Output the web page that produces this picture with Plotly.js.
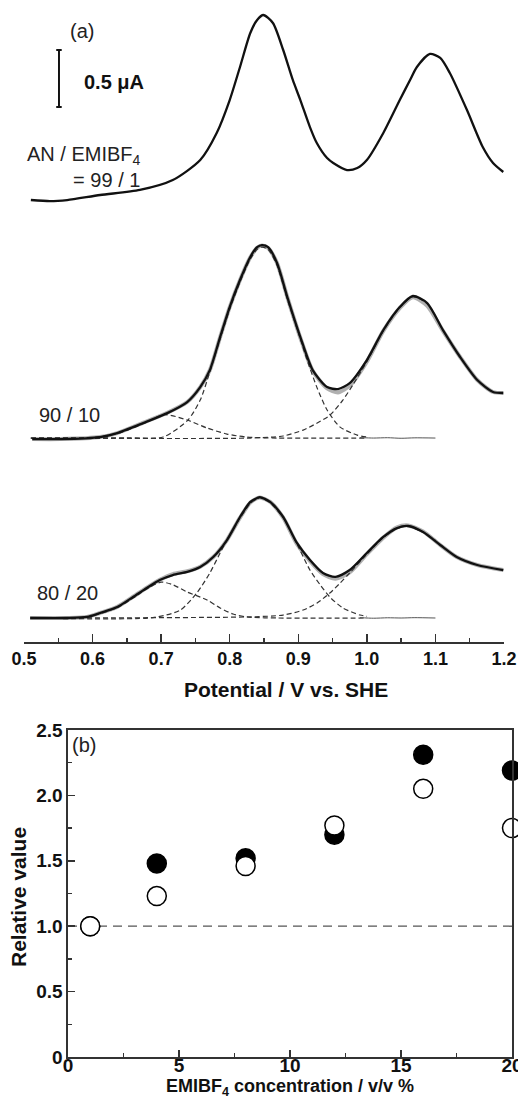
<!DOCTYPE html>
<html>
<head>
<meta charset="utf-8">
<script src="https://cdn.plot.ly/plotly-3.0.1.min.js"></script>
<style>
html,body{margin:0;padding:0;background:#fff;}
#chart{width:518px;height:1099px;}
</style>
</head>
<body>
<div id="chart"></div>
<script>
// ---------- Panel (a): voltammograms, current (µA) above each trace's own baseline ----------
// AN / EMIBF4 = 99 / 1 (fit)
const pot99 = [0.510,0.538,0.563,0.611,0.669,0.717,0.757,0.781,0.800,0.815,0.830,0.840,0.849,0.863,0.878,0.892,0.903,0.917,0.927,0.942,0.951,0.971,0.986,1.000,1.024,1.048,1.063,1.073,1.092,1.107,1.121,1.146,1.169,1.184,1.199];
const cur99 = [0,-0.01,0,0.044,0.088,0.175,0.351,0.588,0.877,1.167,1.465,1.579,1.623,1.553,1.316,1.053,0.877,0.640,0.500,0.368,0.325,0.263,0.281,0.351,0.588,0.877,1.053,1.167,1.281,1.246,1.114,0.789,0.465,0.325,0.246];

// 90 / 10
const pot90 = [0.512,0.553,0.611,0.636,0.674,0.709,0.738,0.757,0.771,0.786,0.800,0.815,0.830,0.840,0.847,0.856,0.869,0.884,0.903,0.921,0.942,0.958,0.975,1.000,1.024,1.048,1.067,1.088,1.111,1.136,1.161,1.184,1.199];
const fit90 = [-0.009,-0.009,0.009,0.044,0.132,0.219,0.316,0.447,0.596,0.886,1.149,1.386,1.588,1.675,1.693,1.675,1.535,1.237,0.886,0.596,0.447,0.430,0.482,0.684,0.947,1.149,1.246,1.184,0.947,0.711,0.509,0.404,0.395];
const exp90 = [-0.009,-0.009,0.009,0.044,0.135,0.222,0.316,0.447,0.596,0.886,1.149,1.386,1.585,1.670,1.690,1.668,1.535,1.237,0.880,0.590,0.435,0.400,0.460,0.670,0.940,1.140,1.235,1.160,0.940,0.711,0.509,0.404,0.395];
const compA90x = [0.510,0.600,0.636,0.674,0.705,0.738,0.767,0.796,0.825,0.870,1.000];
const compA90y = [0,0.005,0.040,0.125,0.205,0.158,0.088,0.035,0.009,0,0];
const compB90x = [0.510,0.650,0.703,0.739,0.757,0.771,0.786,0.800,0.815,0.830,0.840,0.847,0.856,0.869,0.884,0.903,0.912,0.927,0.942,0.961,0.986,1.000];
const compB90y = [0,0.002,0.009,0.158,0.333,0.580,0.870,1.130,1.370,1.570,1.655,1.675,1.655,1.515,1.220,0.870,0.700,0.447,0.246,0.096,0.026,0.009];
const compC90x = [0.510,0.830,0.878,0.907,0.927,0.946,0.965,0.980,1.000,1.024,1.048,1.067,1.088,1.100];
const compC90y = [0,0,0.018,0.070,0.130,0.200,0.333,0.470,0.670,0.940,1.145,1.240,1.180,1.070];
const base90x = [0.990,1.010,1.030,1.050,1.070,1.100];
const base90y = [0.004,0,0.003,-0.002,0.002,0];

// 80 / 20
const pot80 = [0.509,0.563,0.592,0.611,0.636,0.659,0.679,0.698,0.717,0.738,0.757,0.776,0.796,0.815,0.830,0.840,0.844,0.859,0.878,0.898,0.917,0.936,0.954,0.975,1.000,1.024,1.044,1.060,1.082,1.107,1.131,1.161,1.199];
const fit80 = [0,0,0.009,0.044,0.096,0.184,0.263,0.333,0.377,0.404,0.447,0.535,0.684,0.886,1.018,1.053,1.061,1.018,0.886,0.658,0.509,0.395,0.360,0.421,0.570,0.711,0.789,0.807,0.754,0.640,0.535,0.465,0.421];
const exp80 = [0,0,0.009,0.044,0.098,0.186,0.265,0.335,0.385,0.410,0.450,0.535,0.684,0.880,1.012,1.050,1.058,1.018,0.880,0.650,0.500,0.385,0.345,0.400,0.560,0.705,0.795,0.812,0.760,0.640,0.535,0.465,0.421];
const compA80x = [0.510,0.592,0.611,0.636,0.659,0.679,0.700,0.717,0.738,0.767,0.786,0.805,0.825,0.870,1.000];
const compA80y = [0,0.009,0.040,0.090,0.175,0.255,0.315,0.292,0.228,0.158,0.088,0.035,0.009,0,0];
const compB80x = [0.510,0.690,0.728,0.752,0.771,0.786,0.800,0.815,0.830,0.840,0.844,0.859,0.878,0.898,0.917,0.932,0.946,0.965,0.990,1.000];
const compB80y = [0,0.005,0.070,0.219,0.395,0.570,0.728,0.875,1.005,1.045,1.055,1.010,0.880,0.650,0.421,0.290,0.184,0.088,0.026,0.015];
const compC80x = [0.510,0.830,0.878,0.907,0.927,0.946,0.961,0.975,1.000,1.024,1.044,1.060,1.082,1.100];
const compC80y = [0,0.010,0.026,0.070,0.130,0.219,0.307,0.395,0.560,0.705,0.785,0.805,0.752,0.680];
const base80x = [0.990,1.010,1.030,1.050,1.070,1.100];
const base80y = [0.003,-0.002,0.002,0,0.003,0];

// Scale bar (µA)
const scaleBarCurrent = 0.5;

// ---------- Panel (b) ----------
const concentration = [1,4,8,12,16,20];
const filledValues = [1.00,1.48,1.52,1.70,2.31,2.19];
const openValues = [1.00,1.23,1.46,1.77,2.05,1.75];
const referenceLevel = 1.0;

// ---------- Layout constants ----------
const FONT = 'Arial, "Liberation Sans", Helvetica, sans-serif';
const W = 518, H = 1099;
const px = v => v / W;
const py = v => 1 - v / H;
const offset99 = 3.877, offset90 = 1.789, offset80 = 0.2105;
const shift = (arr, o) => arr.map(v => v + o);

const fitLine = {color:'#111', width:2.3, shape:'spline', smoothing:0.7};
const expLine = {color:'#b0b0b0', width:4, shape:'spline', smoothing:0.7};
const compLine = {color:'#333', width:1.2, dash:'5px,3px', shape:'spline', smoothing:0.7};
const baseLine = {color:'#555', width:1, shape:'spline', smoothing:0.7};

function tr(x, y, line, xa, ya) {
  return {type:'scatter', mode:'lines', x:x, y:y, line:line, xaxis:xa||'x', yaxis:ya||'y', hoverinfo:'skip', showlegend:false};
}

const traces = [
  tr(pot99, shift(cur99, offset99), fitLine),
  tr(pot90, shift(exp90, offset90), expLine),
  tr(compA90x, shift(compA90y, offset90), compLine),
  tr(compB90x, shift(compB90y, offset90), compLine),
  tr(compC90x, shift(compC90y, offset90), compLine),
  tr(base90x, shift(base90y, offset90), baseLine),
  tr(pot90, shift(fit90, offset90), fitLine),
  tr(pot80, shift(exp80, offset80), expLine),
  tr(compA80x, shift(compA80y, offset80), compLine),
  tr(compB80x, shift(compB80y, offset80), compLine),
  tr(compC80x, shift(compC80y, offset80), compLine),
  tr(base80x, shift(base80y, offset80), baseLine),
  tr(pot80, shift(fit80, offset80), fitLine),
  {type:'scatter', mode:'markers', x:concentration, y:filledValues, xaxis:'x2', yaxis:'y2',
   marker:{symbol:'circle', size:19, color:'#000', line:{color:'#000', width:1.5}}, cliponaxis:false, showlegend:false, hoverinfo:'skip'},
  {type:'scatter', mode:'markers', x:concentration, y:openValues, xaxis:'x2', yaxis:'y2',
   marker:{symbol:'circle', size:19, color:'#fff', line:{color:'#000', width:1.5}}, cliponaxis:false, showlegend:false, hoverinfo:'skip'}
];

const axisColor = '#333';
const scaleX = 0.551, scaleTop = 5.193;

const layout = {
  width: W, height: H,
  margin: {l:0, r:0, t:0, b:0, pad:0},
  paper_bgcolor:'#fff', plot_bgcolor:'rgba(0,0,0,0)',
  font: {family: FONT, color:'#111'},
  showlegend: false,
  xaxis: {
    domain:[px(24), px(504)], range:[0.5,1.2], anchor:'y',
    showline:true, linecolor:axisColor, linewidth:1.6,
    ticks:'inside', ticklen:8, tickwidth:1.5, tickcolor:axisColor,
    tick0:0.5, dtick:0.1, tickformat:'.1f', ticklabeloverflow:'allow',
    tickfont:{family:FONT, size:18, weight:700, color:'#111'},
    minor:{ticks:'inside', ticklen:4, tickwidth:1.5, tickcolor:axisColor, dtick:0.05, tick0:0.5, showgrid:false},
    showgrid:false, zeroline:false, fixedrange:true
  },
  yaxis: {
    domain:[py(642), 1], range:[0, 642/114], anchor:'x',
    visible:false, showgrid:false, zeroline:false, fixedrange:true
  },
  xaxis2: {
    domain:[px(68), px(512)], range:[0,20], anchor:'y2',
    showline:true, mirror:true, linecolor:axisColor, linewidth:1.6,
    ticks:'inside', ticklen:7, tickwidth:1.5, tickcolor:axisColor,
    tickmode:'array', tickvals:[0,5,10,15,20], ticktext:['0','5','10','15','20'],
    ticklabeloverflow:'allow', ticklabelstandoff:-9,
    tickfont:{family:FONT, size:19, weight:700, color:'#111'},
    minor:{ticks:'inside', ticklen:4, tickwidth:1.5, tickcolor:axisColor, tickmode:'linear', tick0:0, dtick:2.5, showgrid:false},
    showgrid:false, zeroline:false, fixedrange:true
  },
  yaxis2: {
    domain:[py(1057), py(730)], range:[0,2.5], anchor:'x2',
    showline:true, mirror:true, linecolor:axisColor, linewidth:1.6,
    ticks:'inside', ticklen:7, tickwidth:1.5, tickcolor:axisColor,
    tickmode:'array', tickvals:[0,0.5,1,1.5,2,2.5], ticktext:['0','0.5','1.0','1.5','2.0','2.5'],
    ticklabeloverflow:'allow',
    tickfont:{family:FONT, size:19, weight:700, color:'#111'},
    minor:{ticks:'inside', ticklen:4, tickwidth:1.5, tickcolor:axisColor, tickmode:'linear', tick0:0, dtick:0.25, showgrid:false},
    showgrid:false, zeroline:false, fixedrange:true
  },
  shapes: [
    // scale bar
    {type:'line', xref:'x', yref:'y', x0:scaleX, x1:scaleX, y0:scaleTop, y1:scaleTop-scaleBarCurrent, line:{color:'#111', width:2}},
    {type:'line', xref:'x', yref:'y', x0:scaleX-0.004, x1:scaleX+0.004, y0:scaleTop, y1:scaleTop, line:{color:'#111', width:2}},
    {type:'line', xref:'x', yref:'y', x0:scaleX-0.004, x1:scaleX+0.004, y0:scaleTop-scaleBarCurrent, y1:scaleTop-scaleBarCurrent, line:{color:'#111', width:2}},
    // reference level in panel (b)
    {type:'line', xref:'x2', yref:'y2', x0:0, x1:20, y0:referenceLevel, y1:referenceLevel, layer:'below', line:{color:'#555', width:1.3, dash:'9px,6px'}}
  ],
  annotations: [
    {xref:'paper', yref:'paper', x:px(82), y:py(31), text:'(a)', showarrow:false, xanchor:'center', yanchor:'middle', font:{family:FONT, size:20, color:'#222'}},
    {xref:'paper', yref:'paper', x:px(82), y:py(82), text:'0.5 μA', showarrow:false, xanchor:'left', yanchor:'middle', font:{family:FONT, size:20, weight:700, color:'#111'}},
    {xref:'paper', yref:'paper', x:px(143), y:py(167), text:'AN / EMIBF<sub>4</sub><br>= 99 / 1', align:'right', showarrow:false, xanchor:'right', yanchor:'middle', font:{family:FONT, size:20, color:'#222'}},
    {xref:'paper', yref:'paper', x:px(37), y:py(415), text:'90 / 10', showarrow:false, xanchor:'left', yanchor:'middle', font:{family:FONT, size:20, color:'#222'}},
    {xref:'paper', yref:'paper', x:px(35), y:py(593), text:'80 / 20', showarrow:false, xanchor:'left', yanchor:'middle', font:{family:FONT, size:20, color:'#222'}},
    {xref:'paper', yref:'paper', x:px(286), y:py(689), text:'Potential / V vs. SHE', showarrow:false, xanchor:'center', yanchor:'middle', font:{family:FONT, size:21, weight:700, color:'#111'}},
    {xref:'paper', yref:'paper', x:px(84), y:py(745), text:'(b)', showarrow:false, xanchor:'center', yanchor:'middle', font:{family:FONT, size:20, color:'#222'}},
    {xref:'paper', yref:'paper', x:px(18), y:py(897), text:'Relative value', textangle:-90, showarrow:false, xanchor:'center', yanchor:'middle', font:{family:FONT, size:21, weight:700, color:'#111'}},
    {xref:'paper', yref:'paper', x:px(290), y:py(1087), text:'EMIBF<sub>4</sub> concentration / v/v %', showarrow:false, xanchor:'center', yanchor:'middle', font:{family:FONT, size:18, weight:700, color:'#111'}}
  ]
};

Plotly.newPlot('chart', traces, layout, {staticPlot:true, displayModeBar:false});
</script>
</body>
</html>
